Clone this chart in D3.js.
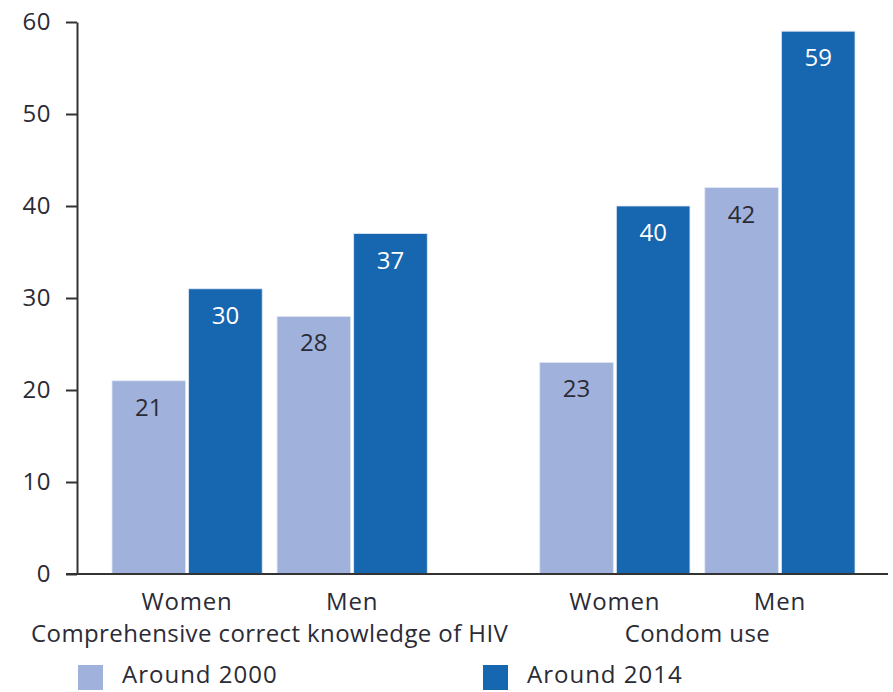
<!DOCTYPE html>
<html>
<head>
<meta charset="utf-8">
<script src="https://cdn.jsdelivr.net/npm/d3@7"></script>
<style>
  body { margin: 0; background: #fff; }
  svg text { font-family: "Open Sans", "Noto Sans", sans-serif; fill: #2b2b35; }
</style>
</head>
<body>
<svg id="chart" width="893" height="692"></svg>
<script>
// data
const groups = ["Comprehensive correct knowledge of HIV", "Condom use"];
const sexes = ["Women", "Men"];
const years = ["Around 2000", "Around 2014"];
const values2000 = [21, 28, 23, 42];   // order: grp1 W, grp1 M, grp2 W, grp2 M
const values2014 = [31, 37, 40, 59];
const labels2000 = ["21", "28", "23", "42"];
const labels2014 = ["30", "37", "40", "59"];
const yTicks = [0, 10, 20, 30, 40, 50, 60];

const colors = ["#a0b2db", "#1666b0"];

let svg = d3.select("#chart");

let y = d3.scaleLinear().domain([0, 60]).range([574, 22]);

// nested band scales: group -> sex -> year
let xGroup = d3.scaleBand().domain(groups).range([112, 855]).paddingInner(0.263);
let xSex = d3.scaleBand().domain(sexes).range([0, xGroup.bandwidth()]).paddingInner(0.09);
let xYear = d3.scaleBand().domain(years).range([0, xSex.bandwidth()]).paddingInner(0.04);

// flatten into rows for drawing
let rows = [];
groups.forEach(function(g, gi) {
    sexes.forEach(function(s, si) {
        let i = gi * 2 + si;
        rows.push({group: g, sex: s, year: years[0], value: values2000[i], label: labels2000[i], k: 0});
        rows.push({group: g, sex: s, year: years[1], value: values2014[i], label: labels2014[i], k: 1});
    });
});

function barX(d) { return xGroup(d.group) + xSex(d.sex) + xYear(d.year); }

// y axis
let yAxis = d3.axisLeft(y).tickValues(yTicks).tickSize(11).tickPadding(15).tickSizeOuter(0);
let yg = svg.append("g").attr("transform", "translate(77,0)").call(yAxis);
yg.select(".domain").attr("stroke", "#333").attr("stroke-width", 2);
yg.selectAll(".tick line").attr("stroke", "#333").attr("stroke-width", 2);
yg.selectAll(".tick text").style("font-size", "24px").style("letter-spacing", "0.5px").attr("fill", "#2b2b35");

// bars
svg.append("g").selectAll("rect").data(rows).enter().append("rect")
    .attr("x", barX)
    .attr("y", function(d) { return y(d.value); })
    .attr("width", xYear.bandwidth())
    .attr("height", function(d) { return y(0) - y(d.value); })
    .attr("fill", function(d) { return colors[d.k]; })
    .attr("stroke", "#dfe6f3")
    .attr("stroke-width", 0.8);

// value labels inside bars
svg.append("g").selectAll("text").data(rows).enter().append("text")
    .attr("x", function(d) { return barX(d) + xYear.bandwidth() / 2; })
    .attr("y", function(d) { return y(d.value) + 35; })
    .attr("text-anchor", "middle")
    .style("font-size", "24px")
    .style("fill", function(d) { return d.k == 1 ? "#ffffff" : "#2b2b35"; })
    .text(function(d) { return d.label; });

// baseline
svg.append("line")
    .attr("x1", 66).attr("x2", 888)
    .attr("y1", y(0)).attr("y2", y(0))
    .attr("stroke", "#333").attr("stroke-width", 2);

// sex labels + group labels
groups.forEach(function(g) {
    sexes.forEach(function(s) {
        svg.append("text")
            .attr("x", xGroup(g) + xSex(s) + xSex.bandwidth() / 2)
            .attr("y", 610)
            .attr("text-anchor", "middle")
            .style("font-size", "24px")
            .style("letter-spacing", "0.8px")
            .text(s);
    });
    svg.append("text")
        .attr("x", xGroup(g) + xGroup.bandwidth() / 2)
        .attr("y", 642)
        .attr("text-anchor", "middle")
        .style("font-size", "24px")
        .style("letter-spacing", "0.4px")
        .text(g);
});

// legend
let legendX = [78, 483];
years.forEach(function(yr, i) {
    svg.append("rect")
        .attr("x", legendX[i]).attr("y", 665)
        .attr("width", 25).attr("height", 25)
        .attr("fill", colors[i]);
    svg.append("text")
        .attr("x", legendX[i] + 44).attr("y", 683)
        .style("font-size", "24px")
        .style("letter-spacing", "1px")
        .text(yr);
});
</script>
</body>
</html>
